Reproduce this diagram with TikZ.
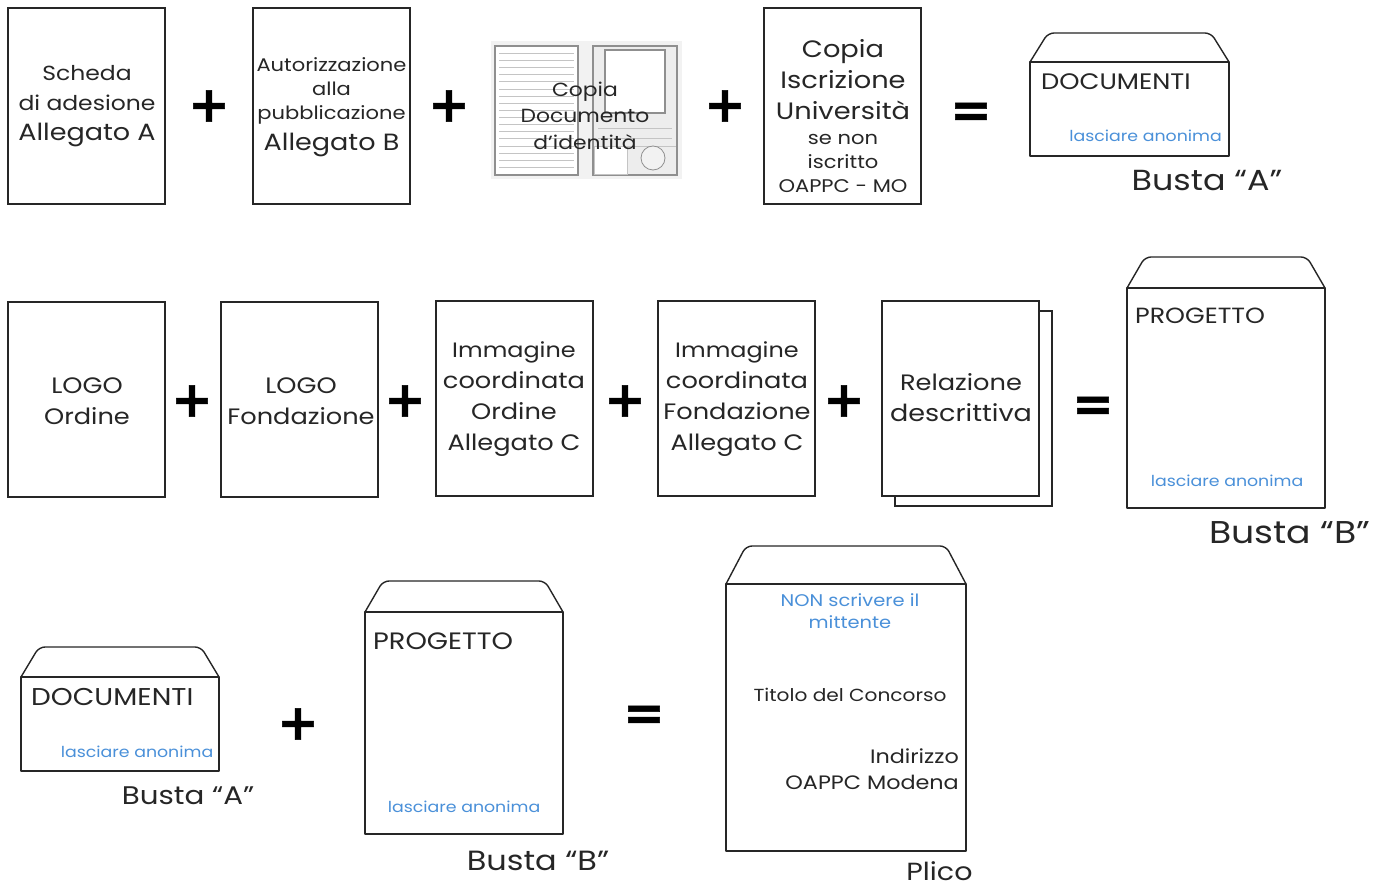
\documentclass[tikz,border=0pt]{standalone}
\usepackage{fontspec}
\setmainfont[FakeStretch=1.15]{Poppins}
\newfontfamily\symfont[FakeBold=1.2]{DejaVu Sans Bold}
\definecolor{ink}{HTML}{262626}
\definecolor{note}{HTML}{4A90D9}
\definecolor{docline}{HTML}{8F8F8F}
\definecolor{docsoft}{HTML}{C4C4C4}
\newcommand{\narrowline}[1]{{\fontsize{20.4}{30.2}\selectfont #1}}
\newcommand{\wideline}[1]{{\fontsize{23.5}{31}\selectfont #1}}
\tikzset{
  x=1pt,y=-1pt,
  sheet/.style={rectangle,draw=ink,line width=1.4pt,fill=white,outer sep=0pt,inner sep=0pt,anchor=north west,minimum width=157,minimum height=196},
  env/.style={draw=ink,line width=1.4pt,fill=white,line join=round},
  tx/.style={text=ink,inner sep=0pt,align=center,font=\fontsize{23.5}{30.2}\selectfont},
  small/.style={tx,font=\fontsize{18.3}{24.2}\selectfont},
  big/.style={tx,font=\fontsize{23.7}{31}\selectfont},
  rowtwo/.style={tx,font=\fontsize{22.3}{31}\selectfont},
  envt/.style={tx,anchor=west,font=\fontsize{22.4}{26}\selectfont},
  blue/.style={inner sep=0pt,text=note,font=\fontsize{15.1}{22}\selectfont,align=center},
  lbl/.style={tx,font=\fontsize{29}{32}\selectfont},
  op/.style={inner sep=0pt,text=black,font=\symfont\fontsize{50}{50}\selectfont},
  docl/.style={draw=docsoft,line width=.8pt},
  docf/.style={draw=docline,line width=1.6pt,fill=white},
}
\newcommand{\envel}[7]{% name, l, t(rect), r, b, flaptop, inset
  \draw[env,rounded corners=6pt] (#2,#3) -- (#2+#7,#6) -- (#4-#7,#6) -- (#4,#3);
  \node[env,rectangle,inner sep=0pt,outer sep=0pt,minimum width=#4-#2,minimum height=#5-#3,anchor=north west] (#1) at (#2,#3) {};
}
\begin{document}
\begin{tikzpicture}
\useasboundingbox (0,0) rectangle (1385,885);
% row 1
\node[sheet] (a1) at (8,8) {};
\node[tx] (t1) at (87,106) {\narrowline{Scheda}\\\narrowline{di adesione}\\Allegato A};
\node[sheet] (a2) at (253,8) {};
\node[small] (t2) at (331.5,91) {Autorizzazione\\alla\\pubblicazione};
\node[tx] (t3) at (331.5,145) {Allegato B};
% identity document
\fill[black!5] (491,41) rectangle (682,179);
\draw[docf] (495,46) rectangle (578,175);
\draw[docf] (593,46) rectangle (677,175);
\foreach \yy in {53,60,67,74,81,89,96,103,110,117,124,131,138,146,153,160,167}{\draw[docl] (499,\yy) -- (574,\yy);}
\fill[black!7] (594,47) rectangle (676,174);
\draw[docf,line width=1.2pt] (605,50) rectangle (665,113);
\draw[docl] (598,128) -- (672,128) (598,138) -- (672,138);
\draw[docl,fill=white] (594,146) rectangle (627,174);
\draw[docl] (627,146) -- (676,146);
\draw[docl,draw=docline,fill=black!5] (653,158) circle (12);
\node[tx,font=\fontsize{19}{26.5}\selectfont] (t4) at (585,115.5) {Copia\\Documento\\d'identità};
\node[sheet] (a3) at (764,8) {};
\node[big] (t5) at (843,80) {Copia\\Iscrizione\\Università};
\node[small] (t6) at (843,163.5) {se non\\iscritto\\OAPPC - MO};
% plus / equals row 1
\node[op] (p1) at (209,106) {+};
\node[op] (p2) at (449,106) {+};
\node[op] (p3) at (725,106) {+};
\node[op] (q1) at (971,115) {=};
% envelope A
\envel{e1}{1030}{62}{1229}{156}{33}{18}
\node[envt] (t7) at (1041,82) {DOCUMENTI};
\node[blue,anchor=east] (t8) at (1222,136) {lasciare anonima};
\node[lbl] (t9) at (1207,181) {Busta “A”};
% row 2
\node[sheet,minimum height=195] (b1) at (8,302) {};
\node[rowtwo] (t10) at (87,401) {LOGO\\Ordine};
\node[sheet,minimum height=195] (b2) at (221,302) {};
\node[rowtwo] (t11) at (301,401) {LOGO\\Fondazione};
\node[sheet,minimum height=195] (b3) at (436,301) {};
\node[rowtwo] (t12) at (514,399.5) {{\fontsize{20.8}{31}\selectfont Immagine}\\coordinata\\Ordine\\Allegato C};
\node[sheet,minimum height=195] (b4) at (658,301) {};
\node[rowtwo] (t13) at (737,399.5) {{\fontsize{20.8}{31}\selectfont Immagine}\\coordinata\\Fondazione\\Allegato C};
\node[sheet,minimum height=195] (b6) at (895,311) {};
\node[sheet,minimum height=195] (b5) at (882,301) {};
\node[rowtwo] (t14) at (961,397.5) {Relazione\\\wideline{descrittiva}};
\node[op] (p4) at (192,401) {+};
\node[op] (p5) at (405,401) {+};
\node[op] (p6) at (625,401) {+};
\node[op] (p7) at (844,401) {+};
\node[op] (q2) at (1093,409) {=};
\envel{e2}{1127}{288}{1325}{508}{257}{18}
\node[envt,font=\fontsize{22}{26}\selectfont] (t15) at (1135,316) {PROGETTO};
\node[blue] (t16) at (1227,481) {lasciare anonima};
\node[lbl,font=\fontsize{31.5}{34}\selectfont] (t17) at (1290,533) {Busta “B”};
% row 3
\envel{e3}{21}{677}{219}{771}{647}{18}
\node[envt,font=\fontsize{24.3}{28}\selectfont] (t18) at (31,697) {DOCUMENTI};
\node[blue] (t19) at (137,752) {lasciare anonima};
\node[lbl,font=\fontsize{25.5}{30}\selectfont] (t20) at (188,796) {Busta “A”};
\node[op] (p8) at (298,724) {+};
\envel{e4}{365}{612}{563}{834}{581}{18}
\node[envt,font=\fontsize{23.7}{28}\selectfont] (t21) at (373,641) {PROGETTO};
\node[blue] (t22) at (464,807) {lasciare anonima};
\node[lbl,font=\fontsize{27.8}{30}\selectfont] (t23) at (538,861) {Busta “B”};
\node[op] (q3) at (644,718) {=};
\envel{e5}{726}{584}{966}{851}{546}{20}
\node[blue,font=\fontsize{16.9}{22}\selectfont] (t24) at (850,611) {NON scrivere il\\mittente};
\node[tx,font=\fontsize{17.5}{24}\selectfont] (t25) at (850,695) {Titolo del Concorso};
\node[tx,align=right,anchor=east,font=\fontsize{19.4}{26}\selectfont] (t26) at (959,769) {Indirizzo\\OAPPC Modena};
\node[tx,font=\fontsize{24.8}{30}\selectfont] (t27) at (939.5,871.5) {Plico};
\end{tikzpicture}
\end{document}
